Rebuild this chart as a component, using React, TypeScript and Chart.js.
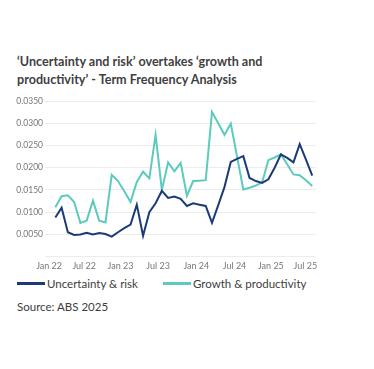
import React, { useEffect, useRef } from "react";
import { Chart, registerables } from "chart.js";

Chart.register(...registerables);

// Months Feb 22 .. Jul 25 (monthly index positions)
const months: string[] = [
  "Feb 22","Mar 22","Apr 22","May 22","Jun 22","Jul 22","Aug 22","Sep 22","Oct 22","Nov 22","Dec 22",
  "Jan 23","Feb 23","Mar 23","Apr 23","May 23","Jun 23","Jul 23","Aug 23","Sep 23","Oct 23","Nov 23","Dec 23",
  "Jan 24","Feb 24","Mar 24","Apr 24","May 24","Jun 24","Jul 24","Aug 24","Sep 24","Oct 24","Nov 24","Dec 24",
  "Jan 25","Feb 25","Mar 25","Apr 25","May 25","Jun 25","Jul 25",
];

const uncertaintyRisk: number[] = [
  0.0088, 0.0110, 0.0055, 0.0049, 0.0050, 0.0054, 0.0050, 0.0053, 0.0051, 0.0045, 0.0055,
  0.0064, 0.0072, 0.0117, 0.0047, 0.0100, 0.0120, 0.0148, 0.0132, 0.0135, 0.0130, 0.0114, 0.0120,
  0.0117, 0.0114, 0.0076, 0.0116, 0.0157, 0.0213, 0.0220, 0.0226, 0.0177, 0.0170, 0.0166, 0.0174,
  0.0200, 0.0230, 0.0222, 0.0212, 0.0253, 0.0218, 0.0182,
];

const growthProductivity: number[] = [
  0.0111, 0.0136, 0.0138, 0.0123, 0.0076, 0.0081, 0.0126, 0.0081, 0.0077, 0.0184, 0.0170,
  0.0147, 0.0123, 0.0168, 0.0191, 0.0176, 0.0274, 0.0150, 0.0212, 0.0192, 0.0211, 0.0137, 0.0170,
  0.0171, 0.0172, 0.0325, 0.0300, 0.0274, 0.0299, 0.0225, 0.0151, 0.0155, 0.0160, 0.0167, 0.0217,
  0.0223, 0.0230, 0.0208, 0.0185, 0.0183, 0.0172, 0.0159,
];

const tickLabels: string[] = ["Jan 22", "Jul 22", "Jan 23", "Jul 23", "Jan 24", "Jul 24", "Jan 25", "Jul 25"];
// tick positions in month-index units (index 0 = Feb 22)
const tickPositions: number[] = [-1, 4.6, 10.4, 16.4, 22.5, 28.6, 34.4, 39.9];

const seriesNames: string[] = ["Uncertainty & risk", "Growth & productivity"];
const seriesColors: string[] = ["#1b3a78", "#5ccabd"];

const FONT = "Lato, 'Open Sans', sans-serif";

export default function App() {
  const canvasRef = useRef<HTMLCanvasElement | null>(null);

  useEffect(() => {
    if (!canvasRef.current) return;
    const series = [uncertaintyRisk, growthProductivity];
    const chart = new Chart(canvasRef.current, {
      type: "line",
      data: {
        datasets: series.map((vals, s) => ({
          label: seriesNames[s],
          data: vals.map((v, i) => ({ x: i, y: v })),
          borderColor: seriesColors[s],
          backgroundColor: seriesColors[s],
          borderWidth: 2,
          pointRadius: 0,
          tension: 0,
          fill: false,
        })),
      },
      options: {
        animation: false,
        responsive: false,
        maintainAspectRatio: false,
        layout: { padding: { top: 9, right: 12, left: 0, bottom: 0 } },
        plugins: {
          legend: { display: false },
          tooltip: { enabled: false },
          title: { display: false },
        },
        scales: {
          x: {
            type: "linear",
            min: -1.65,
            max: 41.6,
            afterBuildTicks: (scale: any) => {
              scale.ticks = tickPositions.map((v) => ({ value: v }));
            },
            afterFit: (scale: any) => {
              scale.height = 15.3;
            },
            grid: { display: false, drawTicks: false },
            border: { display: false },
            ticks: {
              autoSkip: false,
              maxRotation: 0,
              padding: 4,
              color: "#777777",
              font: { family: FONT, size: 9 },
              callback: (_v: any, idx: number) => tickLabels[idx],
            },
          },
          y: {
            min: 0,
            max: 0.035,
            afterFit: (scale: any) => {
              scale.width = 37;
            },
            grid: { color: "#ececec", lineWidth: 1, drawTicks: false },
            border: { display: false },
            ticks: {
              stepSize: 0.005,
              padding: 2,
              color: "#777777",
              font: { family: FONT, size: 8.5 },
              callback: (v: any) => (Number(v) === 0 ? "" : Number(v).toFixed(4)),
            },
          },
        },
      },
    });
    return () => chart.destroy();
  }, []);

  const textColor = "#3d3d3d";

  return (
    <div style={{ position: "relative", width: 358, height: 353, fontFamily: FONT, color: textColor }}>
      <div
        style={{
          position: "absolute",
          left: 9,
          top: 45,
          width: 300,
          fontSize: 12.6,
          fontWeight: 700,
          lineHeight: "17.5px",
          color: "#3f3f3f",
        }}
      >
        ‘Uncertainty and risk’ overtakes ‘growth and
        <br />
        productivity’ - Term Frequency Analysis
      </div>
      <div style={{ position: "absolute", left: 0, top: 84, width: 320, height: 180 }}>
        <canvas ref={canvasRef} width={320} height={180} style={{ display: "block", width: 320, height: 180 }} />
      </div>
      <div style={{ position: "absolute", left: 9, top: 269, height: 18, width: 340 }}>
        {seriesNames.map((name, s) => (
          <div
            key={name}
            style={{
              position: "absolute",
              left: s === 0 ? 0 : 146,
              top: 0,
              display: "flex",
              alignItems: "center",
              fontSize: 11.5,
              color: "#3d3d3d",
              whiteSpace: "nowrap",
            }}
          >
            <span
              style={{
                display: "inline-block",
                width: 28,
                height: 2.5,
                background: seriesColors[s],
                marginRight: 2,
              }}
            />
            {name}
          </div>
        ))}
      </div>
      <div style={{ position: "absolute", left: 9, top: 292, fontSize: 11.5, color: "#3d3d3d" }}>
        Source: ABS 2025
      </div>
    </div>
  );
}
